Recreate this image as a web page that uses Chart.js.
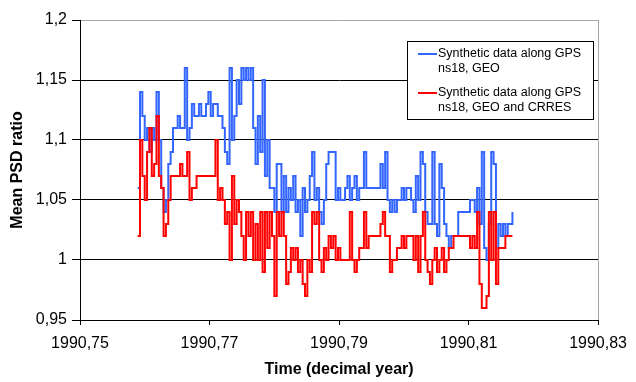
<!DOCTYPE html>
<html>
<head>
<meta charset="utf-8">
<script src="https://cdn.jsdelivr.net/npm/chart.js@4"></script>
<style>
  body { margin: 0; background: #fff; }
</style>
</head>
<body>
<canvas id="psd" width="636" height="382"></canvas>
<script>
// sampling of the synthetic runs (decimal year)
const firstSample = 1990.7589;
const sampleStep = 0.000364;

// mean PSD ratio, synthetic data along GPS ns18 + GEO
const psdGeo = [
  1.06, 1.14, 1.12, 1.10, 1.11, 1.09, 1.11, 1.10, 1.14, 1.10,
  1.06, 1.04, 1.05, 1.08, 1.09, 1.11, 1.11, 1.12, 1.11, 1.11,
  1.16, 1.10, 1.11, 1.13, 1.12, 1.12, 1.13, 1.12, 1.12, 1.13,
  1.14, 1.12, 1.13, 1.13, 1.12, 1.12, 1.11, 1.09, 1.08, 1.16,
  1.10, 1.12, 1.15, 1.13, 1.16, 1.15, 1.16, 1.15, 1.16, 1.11,
  1.08, 1.12, 1.09, 1.15, 1.07, 1.10, 1.06, 1.06, 1.04, 1.08,
  1.08, 1.04, 1.07, 1.04, 1.06, 1.05, 1.07, 1.04, 1.05, 1.02,
  1.06, 1.04, 1.05, 1.07, 1.09, 1.05, 1.06, 1.04, 1.03, 1.05,
  1.08, 1.09, 1.09, 1.09, 1.05, 1.06, 1.05, 1.05, 1.06, 1.07,
  1.05, 1.06, 1.07, 1.05, 1.06, 1.06, 1.09, 1.06, 1.06, 1.06,
  1.06, 1.06, 1.06, 1.08, 1.06, 1.09, 1.05, 1.04, 1.05, 1.04,
  1.05, 1.05, 1.06, 1.05, 1.06, 1.06, 1.05, 1.04, 1.07, 1.05,
  1.09, 1.08, 1.04, 1.03, 1.03, 1.09, 1.03, 1.02, 1.08, 1.06,
  1.03, 1.02, 1.01, 1.02, 1.02, 1.02, 1.04, 1.04, 1.04, 1.04,
  1.04, 1.05, 1.05, 1.04, 1.06, 1.03, 1.09, 1.01, 1.00, 1.03,
  1.09, 1.08, 1.01, 1.03, 1.02, 1.03, 1.02, 1.03, 1.03, 1.04
];

// mean PSD ratio, synthetic data along GPS ns18 + GEO + CRRES
const psdGeoCrres = [
  1.02, 1.10, 1.07, 1.05, 1.09, 1.11, 1.07, 1.08, 1.12, 1.07,
  1.06, 1.02, 1.03, 1.05, 1.07, 1.07, 1.07, 1.07, 1.08, 1.07,
  1.07, 1.09, 1.05, 1.06, 1.06, 1.07, 1.07, 1.07, 1.07, 1.07,
  1.07, 1.07, 1.07, 1.10, 1.05, 1.06, 1.05, 1.03, 1.04, 1.00,
  1.07, 1.03, 1.05, 1.04, 1.02, 1.00, 1.04, 1.02, 1.04, 1.00,
  1.03, 1.00, 1.04, 0.99, 1.04, 1.01, 1.04, 1.02, 0.97, 1.04,
  1.02, 1.04, 1.02, 0.98, 0.99, 1.01, 1.00, 1.01, 0.99, 1.00,
  0.98, 0.97, 1.00, 0.99, 1.04, 1.03, 1.04, 1.00, 0.99, 1.01,
  1.00, 1.02, 1.01, 1.02, 1.00, 1.01, 1.00, 1.00, 1.00, 1.00,
  1.04, 1.00, 0.99, 1.00, 1.01, 1.01, 1.04, 1.01, 1.02, 1.02,
  1.02, 1.02, 1.02, 1.03, 1.04, 1.02, 1.02, 0.99, 1.00, 1.00,
  1.01, 1.01, 1.02, 1.01, 1.02, 1.02, 1.02, 1.00, 1.02, 0.99,
  1.02, 1.04, 1.00, 0.99, 0.98, 1.00, 1.01, 0.99, 1.00, 1.01,
  0.99, 1.00, 1.01, 1.01, 1.02, 1.02, 1.02, 1.02, 1.02, 1.02,
  1.02, 1.01, 1.02, 1.01, 1.04, 0.98, 0.96, 0.96, 0.97, 1.04,
  1.00, 1.04, 0.98, 1.01, 1.01, 1.01, 1.02, 1.02, 1.02, 1.02
];

const seriesNames = [
  ["Synthetic data along GPS", "ns18, GEO"],
  ["Synthetic data along GPS", "ns18, GEO and CRRES"]
];
const seriesColors = ["#3366ff", "#ff0000"];

const sampleTimes = psdGeo.map((_, i) => firstSample + i * sampleStep);
const toPoints = (vals) => vals.map((v, i) => ({ x: sampleTimes[i], y: v }));

const decimalComma = (v, digits) => {
  return Number(v.toFixed(digits)).toString().replace(".", ",");
};

// boxed legend in the upper right, two lines per entry
const boxLegend = {
  id: "boxLegend",
  afterDraw(chart) {
    const ctx = chart.ctx;
    const x0 = 407, y0 = 41, w = 186, h = 78;
    ctx.save();
    ctx.fillStyle = "#fff";
    ctx.fillRect(x0, y0, w, h);
    ctx.strokeStyle = "#000";
    ctx.lineWidth = 1;
    ctx.strokeRect(x0 + 0.5, y0 + 0.5, w, h);
    ctx.font = "12.5px 'Liberation Sans', Arial, sans-serif";
    ctx.textBaseline = "middle";
    ctx.fillStyle = "#000";
    seriesNames.forEach((lines, k) => {
      const yy = 54 + k * 39;
      ctx.strokeStyle = seriesColors[k];
      ctx.lineWidth = 2;
      ctx.beginPath();
      ctx.moveTo(418, yy);
      ctx.lineTo(437, yy);
      ctx.stroke();
      lines.forEach((t, j) => ctx.fillText(t, 438, yy + j * 15));
    });
    ctx.restore();
  }
};

// light grey frame on the right side of the plot area
const plotFrame = {
  id: "plotFrame",
  beforeDatasetsDraw(chart) {
    const { ctx, chartArea } = chart;
    ctx.save();
    ctx.strokeStyle = "#a6a6a6";
    ctx.lineWidth = 1;
    ctx.beginPath();
    ctx.moveTo(Math.round(chartArea.right) + 0.5, chartArea.top);
    ctx.lineTo(Math.round(chartArea.right) + 0.5, chartArea.bottom);
    ctx.stroke();
    ctx.restore();
  }
};

const tickFont = { family: "'Liberation Sans', Arial, sans-serif", size: 16 };
const titleFont = { family: "'Liberation Sans', Arial, sans-serif", size: 16, weight: "bold" };

new Chart(document.getElementById("psd"), {
  type: "line",
  data: {
    datasets: [
      {
        label: seriesNames[1].join(" "),
        data: toPoints(psdGeoCrres),
        borderColor: seriesColors[1],
        borderWidth: 2,
        pointRadius: 0,
        stepped: true,
        order: 0,
      },
      {
        label: seriesNames[0].join(" "),
        data: toPoints(psdGeo),
        borderColor: seriesColors[0],
        borderWidth: 2,
        pointRadius: 0,
        stepped: true,
        order: 1,
      },
    ],
  },
  options: {
    responsive: false,
    animation: false,
    layout: { padding: { top: 20, right: 31.5, left: 0, bottom: 0 } },
    plugins: {
      legend: { display: false },
      tooltip: { enabled: false },
    },
    scales: {
      x: {
        type: "linear",
        min: 1990.75,
        max: 1990.83,
        afterFit: (scale) => { scale.height = 62; },
        ticks: {
          stepSize: 0.02,
          color: "#000",
          font: tickFont,
          padding: 9,
          maxRotation: 0,
          callback: (v) => v.toFixed(2).replace(".", ","),
        },
        grid: {
          drawOnChartArea: false,
          tickLength: 5,
          tickColor: "#000",
        },
        border: { color: "#000", width: 1 },
        title: {
          display: true,
          text: "Time (decimal year)",
          color: "#000",
          font: titleFont,
          padding: { top: 0, bottom: 2.4 },
        },
      },
      y: {
        min: 0.95,
        max: 1.2,
        afterFit: (scale) => { scale.width = 80; },
        ticks: {
          stepSize: 0.05,
          color: "#000",
          font: tickFont,
          padding: 5,
          callback: (v) => decimalComma(v, 2),
        },
        grid: {
          color: (c) => (c.tick && c.tick.value > 1.19 ? "#a6a6a6" : "#000"),
          tickColor: "#000",
          tickLength: 8,
        },
        border: { color: "#000", width: 1 },
        title: {
          display: true,
          text: "Mean PSD ratio",
          color: "#000",
          font: titleFont,
          padding: { top: 8.4, bottom: 0 },
        },
      },
    },
  },
  plugins: [plotFrame, boxLegend],
});
</script>
</body>
</html>
